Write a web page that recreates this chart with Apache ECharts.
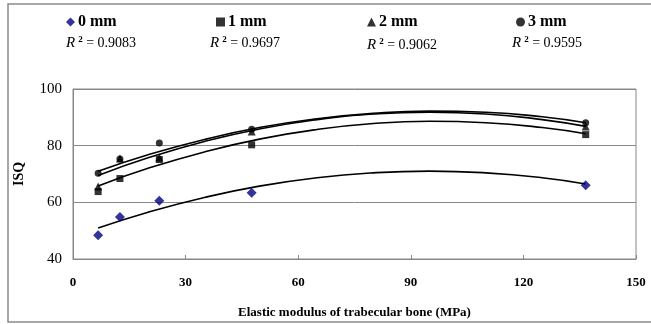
<!DOCTYPE html>
<html>
<head>
<meta charset="utf-8">
<script src="https://cdn.jsdelivr.net/npm/echarts@6/dist/echarts.min.js"></script>
<style>
html,body{margin:0;padding:0;background:#fff;}
#chart{width:651px;height:324px;}
</style>
</head>
<body>
<div id="chart"></div>
<script>
// Measured data (x = elastic modulus, MPa)
var dataX = [6.7, 12.5, 23, 47.6, 136.6];
var isq0 = [48.4, 54.8, 60.6, 63.4, 66.0];
var isq1 = [63.8, 68.4, 75.1, 80.3, 83.9];
var isq2 = [65.6, 75.5, 75.8, 85.0, 86.8];
var isq3 = [70.3, 75.3, 80.9, 85.8, 88.1];

// Polynomial trend curves
var trendX  = [6.7, 20, 35, 50, 65, 80, 95, 110, 125, 136.6];
var trend0  = [50.9, 56.5, 61.7, 65.8, 68.7, 70.4, 71.0, 70.4, 68.7, 66.5];
var trend1  = [65.8, 72.0, 77.8, 82.4, 85.7, 87.8, 88.6, 88.1, 86.4, 84.2];
var trend2  = [69.5, 75.7, 81.5, 86.0, 89.2, 91.2, 91.8, 91.2, 89.2, 86.8];
var trend3  = [71.0, 76.8, 82.2, 86.5, 89.5, 91.4, 92.2, 91.8, 90.2, 88.1];

var seriesNames = ['0 mm', '1 mm', '2 mm', '3 mm'];
var r2Labels = ['0.9083', '0.9697', '0.9062', '0.9595'];
var xTicks = [0, 30, 60, 90, 120, 150];
var yTicks = [40, 60, 80, 100];

function pairs(xs, ys) { return xs.map(function (x, i) { return [x, ys[i]]; }); }

var serif = '"Liberation Serif", "Times New Roman", serif';
var isqs = [isq0, isq1, isq2, isq3];
var trends = [trend0, trend1, trend2, trend3];
var symbols = ['diamond', 'rect', 'triangle', 'circle'];
var sizes = [10, 7, 8, 7];
var colors = ['#000080', '#000000', '#000000', '#000000'];
var zs = [5, 6, 8, 7];
var legendLeft = [66, 216, 367, 516];
var r2Left = [66, 210, 367, 512];
var r2Top = [35, 35, 37, 35];

var series = [];
for (var i = 0; i < 4; i++) {
  series.push({
    name: seriesNames[i] + ' trend',
    type: 'line',
    data: pairs(trendX, trends[i]),
    smooth: true,
    showSymbol: false,
    silent: true,
    lineStyle: { color: '#000', width: 1.6 },
    z: 2
  });
}
for (var j = 0; j < 4; j++) {
  series.push({
    name: seriesNames[j],
    type: 'scatter',
    data: pairs(dataX, isqs[j]),
    symbol: symbols[j],
    symbolSize: sizes[j],
    itemStyle: { color: colors[j] },
    z: zs[j]
  });
}

var legends = seriesNames.map(function (n, k) {
  return {
    data: [{ name: n, icon: symbols[k] }],
    left: legendLeft[k],
    top: 14,
    itemWidth: 9,
    itemHeight: 9,
    itemGap: 0,
    padding: 0,
    textStyle: { fontFamily: serif, fontSize: 16, fontWeight: 'bold', color: '#000', padding: [2, 0, 0, -2] }
  };
});

var graphics = r2Labels.map(function (v, k) {
  return {
    type: 'text',
    left: r2Left[k],
    top: r2Top[k],
    style: {
      text: '{r|R}{s|2}{t| = ' + v + '}',
      rich: {
        r: { fontFamily: serif, fontStyle: 'italic', fontSize: 15, fill: '#000' },
        s: { fontFamily: serif, fontSize: 9, fontWeight: 'bold', verticalAlign: 'top', padding: [0, 0, 8, 3], fill: '#000' },
        t: { fontFamily: serif, fontSize: 14, fill: '#000' }
      }
    }
  };
});
graphics.push({
  type: 'rect',
  shape: { x: 8, y: 4, width: 700, height: 318 },
  style: { fill: 'none', stroke: '#8a8a8a', lineWidth: 1.5 },
  silent: true
});

var chart = echarts.init(document.getElementById('chart'), null, { renderer: 'canvas' });
chart.setOption({
  animation: false,
  backgroundColor: '#fff',
  legend: legends,
  graphic: graphics,
  grid: { left: 73, right: 15, top: 89, bottom: 65, show: true, borderColor: '#888', borderWidth: 1 },
  xAxis: {
    type: 'value',
    min: xTicks[0],
    max: xTicks[xTicks.length - 1],
    interval: 30,
    name: 'Elastic modulus of trabecular bone (MPa)',
    nameLocation: 'middle',
    nameGap: 47,
    nameTextStyle: { fontFamily: serif, fontSize: 13, fontWeight: 'bold', color: '#000' },
    axisLine: { show: true, lineStyle: { color: '#888' } },
    axisTick: { show: true, inside: true, length: 4, lineStyle: { color: '#888' } },
    axisLabel: { fontFamily: serif, fontSize: 13, fontWeight: 'bold', color: '#000', margin: 17 },
    splitLine: { show: false }
  },
  yAxis: {
    type: 'value',
    min: yTicks[0],
    max: yTicks[yTicks.length - 1],
    interval: 20,
    name: 'ISQ',
    nameLocation: 'middle',
    nameGap: 47,
    nameTextStyle: { fontFamily: serif, fontSize: 14, fontWeight: 'bold', color: '#000' },
    axisLine: { show: true, lineStyle: { color: '#888' } },
    axisTick: { show: false },
    axisLabel: { fontFamily: serif, fontSize: 15, color: '#000', margin: 11 },
    splitLine: { show: true, lineStyle: { color: '#888', width: 1 } }
  },
  series: series
});
</script>
</body>
</html>
